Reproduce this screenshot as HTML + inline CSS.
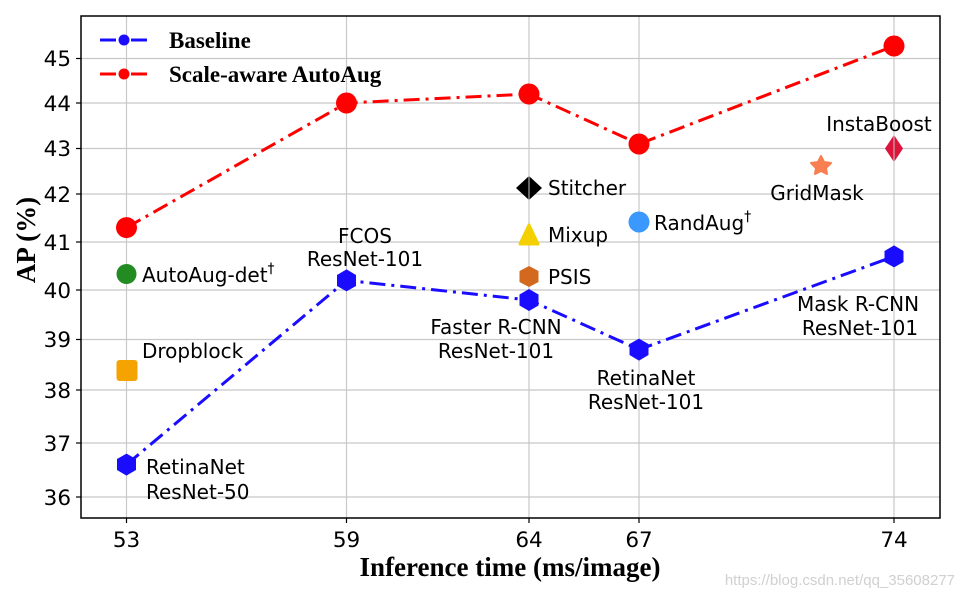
<!DOCTYPE html>
<html><head><meta charset="utf-8"><style>
html,body{margin:0;padding:0;background:#fff}
svg{display:block}
.t{font-family:"DejaVu Sans",sans-serif;font-size:21.5px;fill:#000}
.l{font-family:"DejaVu Sans",sans-serif;font-size:20px;fill:#000}
.b{font-family:"Liberation Serif",serif;font-weight:bold;fill:#000}
</style></head><body>
<svg width="965" height="597" viewBox="0 0 965 597" xmlns="http://www.w3.org/2000/svg">
<rect width="965" height="597" fill="#fff"/>
<g stroke="#c8c8c8" stroke-width="1.2">
<line x1="126.5" y1="16" x2="126.5" y2="518"/><line x1="346.5" y1="16" x2="346.5" y2="518"/>
<line x1="529" y1="16" x2="529" y2="518"/><line x1="639" y1="16" x2="639" y2="518"/>
<line x1="894" y1="16" x2="894" y2="518"/>
<line x1="81" y1="58.5" x2="940" y2="58.5"/><line x1="81" y1="103" x2="940" y2="103"/>
<line x1="81" y1="148.5" x2="940" y2="148.5"/><line x1="81" y1="194" x2="940" y2="194"/>
<line x1="81" y1="242" x2="940" y2="242"/><line x1="81" y1="290" x2="940" y2="290"/>
<line x1="81" y1="339.5" x2="940" y2="339.5"/><line x1="81" y1="390" x2="940" y2="390"/>
<line x1="81" y1="443" x2="940" y2="443"/><line x1="81" y1="497" x2="940" y2="497"/>
</g>
<rect x="81" y="16" width="859" height="502" fill="none" stroke="#000" stroke-width="1.5"/>
<g stroke="#000" stroke-width="1.2">
<line x1="76" y1="58.5" x2="81" y2="58.5"/><line x1="76" y1="103" x2="81" y2="103"/><line x1="76" y1="148.5" x2="81" y2="148.5"/><line x1="76" y1="194" x2="81" y2="194"/><line x1="76" y1="242" x2="81" y2="242"/><line x1="76" y1="290" x2="81" y2="290"/><line x1="76" y1="339.5" x2="81" y2="339.5"/><line x1="76" y1="390" x2="81" y2="390"/><line x1="76" y1="443" x2="81" y2="443"/><line x1="76" y1="497" x2="81" y2="497"/>
<line x1="126.5" y1="518" x2="126.5" y2="523"/><line x1="346.5" y1="518" x2="346.5" y2="523"/><line x1="529" y1="518" x2="529" y2="523"/><line x1="639" y1="518" x2="639" y2="523"/><line x1="894" y1="518" x2="894" y2="523"/>
</g>
<g class="t" text-anchor="end">
<text x="71" y="66">45</text><text x="71" y="111">44</text><text x="71" y="156">43</text><text x="71" y="202">42</text><text x="71" y="250">41</text><text x="71" y="298">40</text><text x="71" y="347">39</text><text x="71" y="398">38</text><text x="71" y="451">37</text><text x="71" y="505">36</text>
</g>
<g class="t" text-anchor="middle">
<text x="126.5" y="547">53</text><text x="346.5" y="547">59</text><text x="529" y="547">64</text><text x="639" y="547">67</text><text x="894" y="547">74</text>
</g>
<text class="b" x="510" y="576" font-size="27" text-anchor="middle">Inference time (ms/image)</text>
<text class="b" x="35" y="240" font-size="27" text-anchor="middle" transform="rotate(-90 35 240)">AP (%)</text>
<text x="955" y="585" font-family="Liberation Sans,sans-serif" font-size="15" fill="#d0d0d0" text-anchor="end">https://blog.csdn.net/qq_35608277</text>

<polyline points="126.5,227.6 346.5,103 529,94 639,144 894,46" fill="none" stroke="#f00" stroke-width="3" stroke-dasharray="16,6,3,6"/>
<polyline points="126.5,464.6 346.5,280.4 529,300 639,349.6 894,256.4" fill="none" stroke="#1a0dff" stroke-width="3" stroke-dasharray="16,6,3,6"/>
<g fill="#f00">
<circle cx="126.5" cy="227.6" r="10.5"/><circle cx="346.5" cy="103" r="10.5"/><circle cx="529" cy="94" r="10.5"/><circle cx="639" cy="144" r="10.5"/><circle cx="894" cy="46" r="10.5"/>
</g>
<g fill="#1a0dff">
<polygon points="126.5,453.6 136,459 136,470 126.5,475.6 117,470 117,459"/>
<polygon points="346.5,269.4 356,275 356,286 346.5,291.4 337,286 337,275"/>
<polygon points="529,289 538.5,294.5 538.5,305.5 529,311 519.5,305.5 519.5,294.5"/>
<polygon points="639,338.6 648.5,344 648.5,355 639,360.6 629.5,355 629.5,344"/>
<polygon points="894,245.4 903.5,251 903.5,262 894,267.4 884.5,262 884.5,251"/>
</g>
<circle cx="126.5" cy="274" r="10" fill="#228b22"/>
<rect x="116.5" y="360" width="21" height="21" rx="3" fill="#f5a300"/>
<polygon points="529,176 542,188 529,200 516,188" fill="#000"/>
<polygon points="529,225 538,244 520,244" fill="#f4d000" stroke="#f4d000" stroke-width="3" stroke-linejoin="round"/>
<polygon points="529,266 538.5,271 538.5,282 529,287 519.5,282 519.5,271" fill="#d2691e"/>
<circle cx="639" cy="222" r="10.5" fill="#3a98ff"/>
<polygon points="821,156 824,162 831,163 826,168 827,174 821,171 815,174 816,168 811,163 818,162" fill="#f77f52" stroke="#f77f52" stroke-width="2" stroke-linejoin="round"/>
<polygon points="894,135 903,148.5 894,162 885,148.5" fill="#dc143c"/>
<g stroke="#c8c8c8" stroke-width="1"><line x1="529" y1="176" x2="529" y2="200"/><line x1="894" y1="135" x2="894" y2="162"/></g>

<g class="l">
<text x="142" y="282">AutoAug-det<tspan font-size="14" dy="-9">†</tspan></text>
<text x="142" y="358">Dropblock</text>
<text x="146" y="474">RetinaNet</text><text x="146" y="499">ResNet-50</text>
<text x="365" y="243" text-anchor="middle">FCOS</text><text x="365" y="266" text-anchor="middle">ResNet-101</text>
<text x="496" y="334" text-anchor="middle">Faster R-CNN</text><text x="496" y="358" text-anchor="middle">ResNet-101</text>
<text x="646" y="385" text-anchor="middle">RetinaNet</text><text x="646" y="409" text-anchor="middle">ResNet-101</text>
<text x="858" y="311" text-anchor="middle">Mask R-CNN</text><text x="860" y="335" text-anchor="middle">ResNet-101</text>
<text x="548" y="195">Stitcher</text>
<text x="548" y="242">Mixup</text>
<text x="548" y="284">PSIS</text>
<text x="654" y="230">RandAug<tspan font-size="14" dy="-9">†</tspan></text>
<text x="817" y="200" text-anchor="middle">GridMask</text>
<text x="879" y="131" text-anchor="middle">InstaBoost</text>
</g>

<line x1="100" y1="40" x2="148" y2="40" stroke="#1a0dff" stroke-width="3" stroke-dasharray="16,6,3,6"/>
<circle cx="124" cy="40" r="5.5" fill="#1a0dff"/>
<line x1="100" y1="74" x2="148" y2="74" stroke="#f00" stroke-width="3" stroke-dasharray="16,6,3,6"/>
<circle cx="124" cy="74" r="5.5" fill="#f00"/>
<text class="b" x="169" y="48" font-size="23">Baseline</text>
<text class="b" x="169" y="82" font-size="23">Scale-aware AutoAug</text>
</svg>
</body></html>
